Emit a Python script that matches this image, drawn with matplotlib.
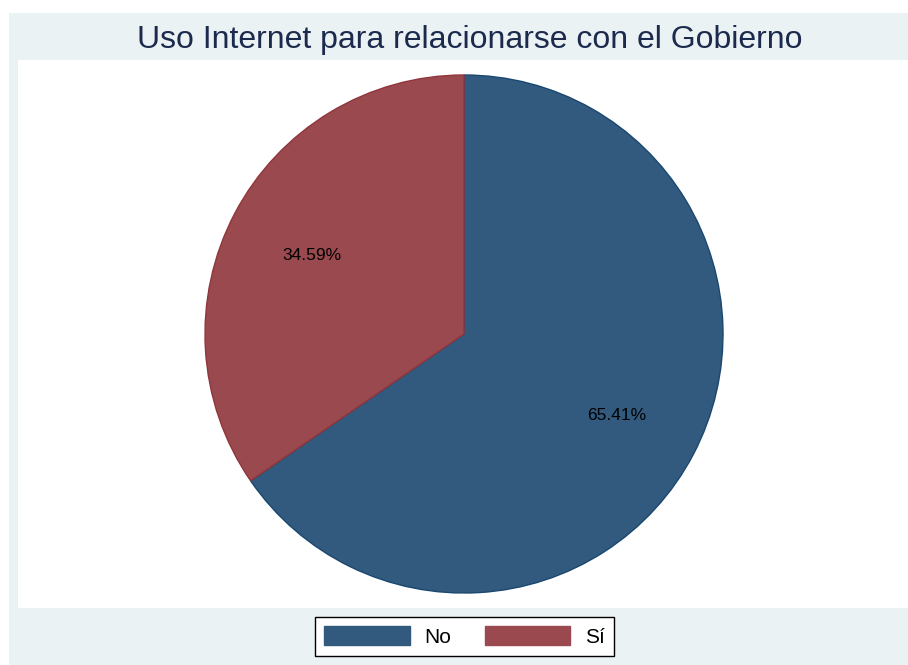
import matplotlib.pyplot as plt
from matplotlib.patches import Rectangle, Patch

# Uso de Internet para relacionarse con el Gobierno
categorias = ["No", "Sí"]
porcentajes = [65.41, 34.59]
colores = ["#325A7E", "#9A494F"]
bordes = ["#1A476F", "#90353B"]

W, H = 908, 665
fig = plt.figure(figsize=(W / 100, H / 100), dpi=100)
fig.patch.set_facecolor("white")
plt.rcParams["font.family"] = ["Liberation Sans", "DejaVu Sans"]

# fondo del grafico (gris azulado) y zona de trazado blanca
fig.patches.append(Rectangle((9 / W, 0), 1 - 9 / W, (H - 13) / H,
                             transform=fig.transFigure, facecolor="#EAF2F3",
                             edgecolor="none", zorder=-3))
fig.patches.append(Rectangle((18 / W, (H - 608) / H), 1 - 18 / W, (608 - 60) / H,
                             transform=fig.transFigure, facecolor="white",
                             edgecolor="none", zorder=-2))

fig.text(470 / W, (H - 40) / H, "Uso Internet para relacionarse con el Gobierno",
         ha="center", va="center", fontsize=23, color="#1C2A4E")

cx, cy, r = 464, 334, 259
ax = fig.add_axes([(cx - r) / W, (H - cy - r) / H, 2 * r / W, 2 * r / H])
ax.set_zorder(1)
wedges, texts, autotexts = ax.pie(
    porcentajes, colors=colores, startangle=90, counterclock=False,
    autopct=lambda p: "{:.2f}%".format(p), pctdistance=0.665,
    wedgeprops=dict(linewidth=1.0),
    textprops=dict(fontsize=12.5, color="black"))
for w, b in zip(wedges, bordes):
    w.set_edgecolor(b)
for t in autotexts:
    t.set_va("center_baseline")
ax.set_xlim(-1.0, 1.0)
ax.set_ylim(-1.0, 1.0)
ax.set_aspect("equal")
ax.axis("off")

handles = [Patch(facecolor=c, edgecolor=c) for c in colores]
leg = fig.legend(handles, categorias, loc="center",
                 bbox_to_anchor=(464.5 / W, (H - 636.5) / H), ncol=2,
                 fontsize=15, handlelength=4.1, handleheight=1.05,
                 handletextpad=0.7, columnspacing=1.6, borderpad=0.45,
                 fancybox=False, frameon=True)
leg.get_frame().set_edgecolor("black")
leg.get_frame().set_linewidth(1.0)
leg.get_frame().set_facecolor("white")
leg.get_frame().set_alpha(1)

fig.savefig("out.png", dpi=100, facecolor=fig.get_facecolor())
